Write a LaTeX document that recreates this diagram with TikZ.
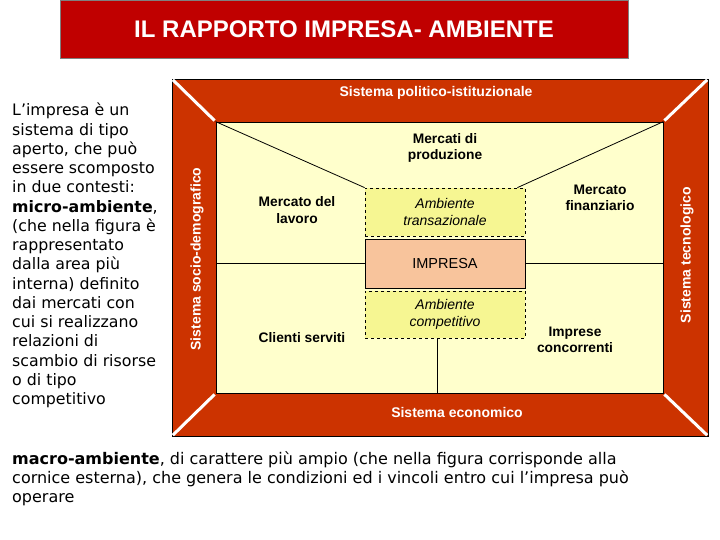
\documentclass[tikz,border=0pt]{standalone}
\usepackage{fontspec}
\setmainfont{Liberation Sans}
\newfontfamily\verdana{DejaVu Sans}
\usetikzlibrary{positioning, calc}

\definecolor{titlered}{RGB}{192,0,0}
\definecolor{framered}{RGB}{204,51,0}
\definecolor{innercream}{RGB}{255,255,204}
\definecolor{ambyellow}{RGB}{246,246,146}
\definecolor{impresapeach}{RGB}{248,196,156}

\begin{document}
\begin{tikzpicture}[x=1pt, y=-1pt]
        \tikzstyle{label}=[font=\fontsize{13.8}{16.5}\selectfont\bfseries, align=center, inner sep=0];
        \tikzstyle{sistema}=[font=\fontsize{14}{16}\selectfont\bfseries, text=white, inner sep=0];
        \tikzstyle{ambiente}=[draw=black, dashed, line width=0.7pt, fill=ambyellow, minimum width=160pt, font=\fontsize{14}{16.5}\selectfont\itshape, align=center, inner sep=0];
        \tikzstyle{cornerline}=[draw=white, line width=3pt, shorten >=1.5pt, shorten <=1.5pt];

        \useasboundingbox (0, 0) rectangle (720, 540);

        \node[draw=gray, fill=titlered, minimum width=568pt, minimum height=58pt, text=white, font=\fontsize{24}{28}\selectfont\bfseries] (title) at (344, 29) {IL RAPPORTO IMPRESA- AMBIENTE};

        \node[draw=black, fill=framered, minimum width=536pt, minimum height=357pt] (frame) at (440, 257.5) {};
        \node[draw=black, line width=0.8pt, fill=innercream, minimum width=447pt, minimum height=271pt] (inner) at (439.5, 257.5) {};

        \node[sistema] (politico) at (436, 93) {Sistema politico-istituzionale};
        \node[sistema] (economico) at (457, 412) {Sistema economico};
        \node[sistema, rotate=90] (socio) at (197, 259) {Sistema socio-demografico};
        \node[sistema, rotate=90] (tecnologico) at (687, 255) {Sistema tecnologico};

        \node[ambiente, minimum height=48pt] (trans) at (445, 212) {Ambiente\\transazionale};
        \node[draw=black, line width=0.8pt, fill=impresapeach, minimum width=160pt, minimum height=49pt, font=\fontsize{14.5}{17}\selectfont] (impresa) at (445, 263.5) {IMPRESA};
        \node[ambiente, minimum height=47pt] (comp) at (445, 314.5) {Ambiente\\competitivo};

        \node[label] (produzione) at (445, 148) {Mercati di\\produzione};
        \node[label] (lavoro) at (297, 210) {Mercato del\\lavoro};
        \node[label] (finanziario) at (600, 198) {Mercato\\finanziario};
        \node[label] (clienti) at (302, 338) {Clienti serviti};
        \node[label] (concorrenti) at (575, 340) {Imprese\\concorrenti};

        \coordinate (ml) at (216, 263.5);
        \coordinate (mr) at (663, 263.5);
        \coordinate (mb) at (437.5, 393);

        \draw (inner.north west) edge[-, line width=0.8pt] (trans.north west);
        \draw (inner.north east) edge[-, line width=0.8pt] ([xshift=-8pt]trans.north east);
        \draw (ml) edge[-, line width=0.8pt] (impresa.west);
        \draw (impresa.east) edge[-, line width=0.8pt] (mr);
        \draw ([xshift=-7.5pt]comp.south) edge[-, line width=0.8pt] (mb);

        \draw[cornerline] (frame.north west) -- (inner.north west);
        \draw[cornerline] (frame.north east) -- (inner.north east);
        \draw[cornerline] (frame.south west) -- (inner.south west);
        \draw[cornerline] (frame.south east) -- (inner.south east);

        \node[anchor=north west, inner sep=0, align=left, font=\verdana\fontsize{15.8}{19.25}\selectfont] (microtext) at (12, 103) {L’impresa è un\\sistema di tipo\\aperto, che può\\essere scomposto\\in due contesti:\\\textbf{micro-ambiente},\\(che nella figura è\\rappresentato\\dalla area più\\interna) definito\\dai mercati con\\cui si realizzano\\relazioni di\\scambio di risorse\\o di tipo\\competitivo};

        \node[anchor=north west, inner sep=0, align=left, font=\verdana\fontsize{16}{19}\selectfont] (macrotext) at (12, 451) {\textbf{macro-ambiente}, di carattere più ampio (che nella figura corrisponde alla\\cornice esterna), che genera le condizioni ed i vincoli entro cui l’impresa può\\operare};
    \end{tikzpicture}
\end{document}
